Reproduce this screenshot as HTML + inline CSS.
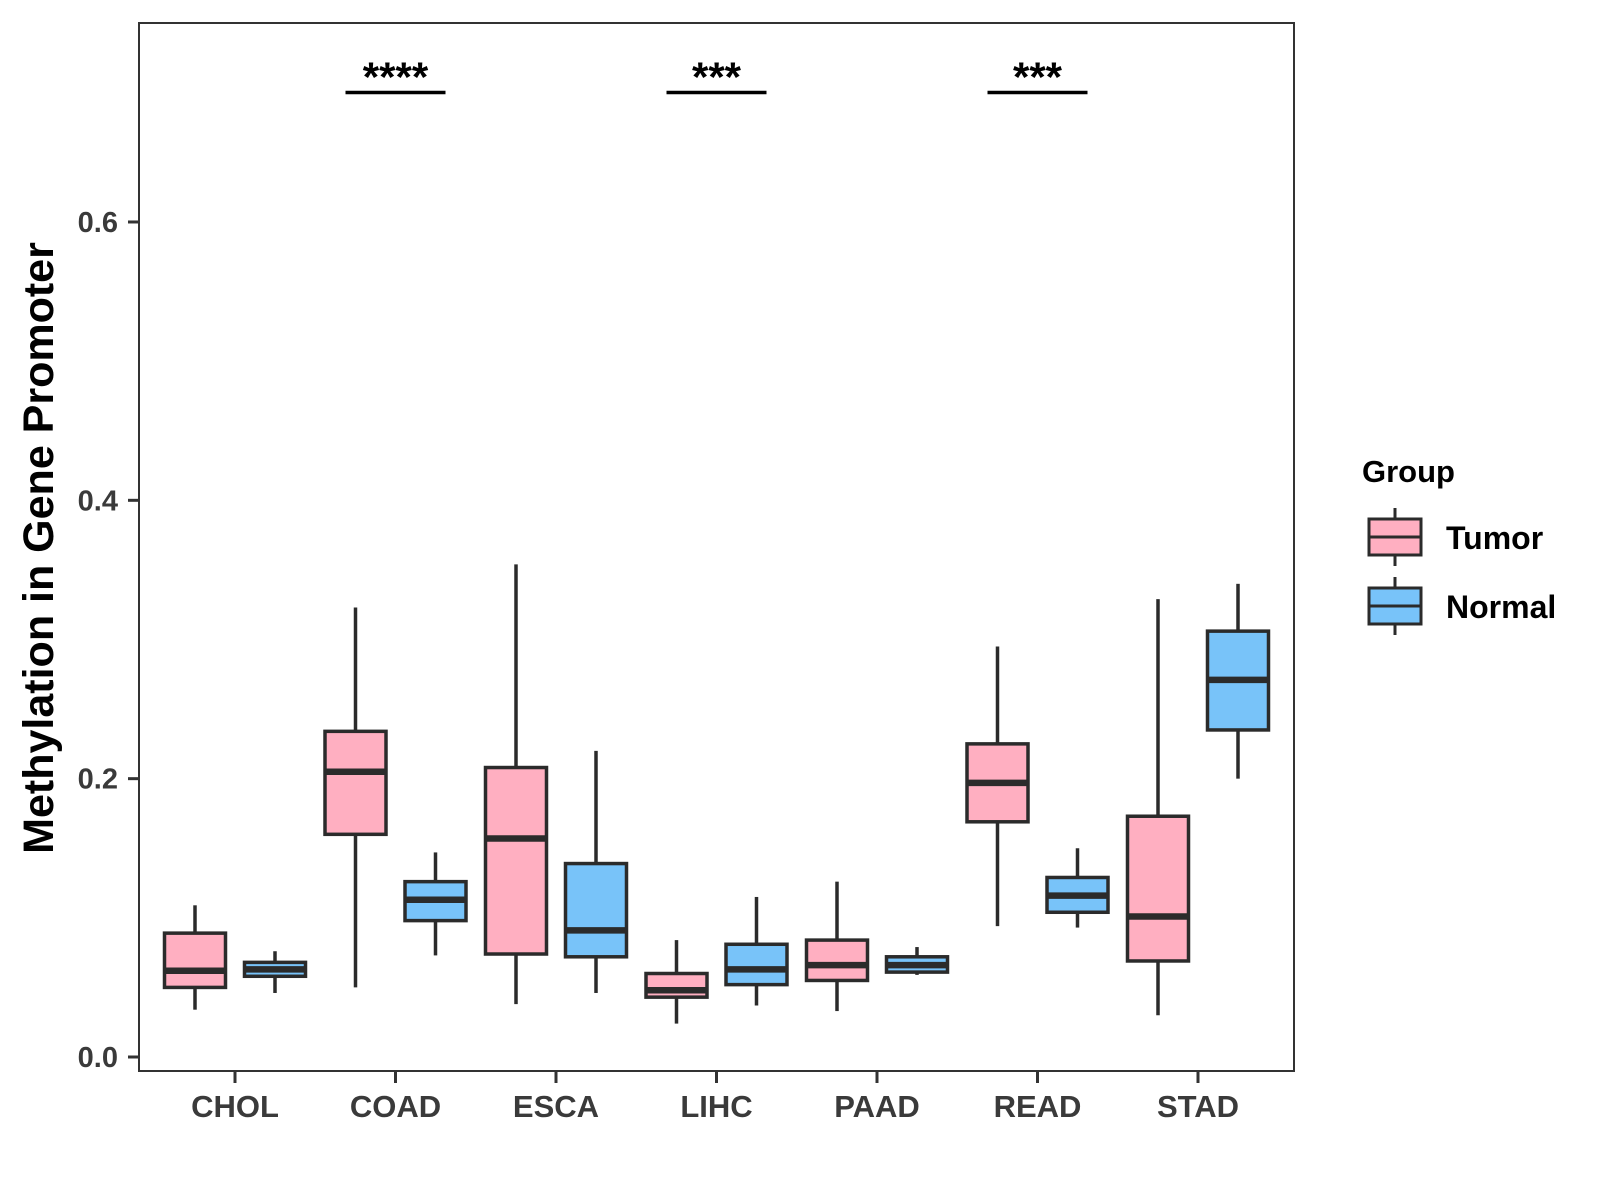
<!DOCTYPE html>
<html><head><meta charset="utf-8"><style>
html,body{margin:0;padding:0;background:#fff;}
svg{display:block;font-family:"Liberation Sans",Arial,sans-serif;}
</style></head><body>
<svg id="chart" width="1600" height="1200" viewBox="0 0 1600 1200">
<rect x="0" y="0" width="1600" height="1200" fill="#fff"/>
<rect x="139" y="23" width="1155" height="1048" fill="none" stroke="#333" stroke-width="2"/>
<g id="yaxis"></g>
<g id="xaxis"></g>
<g id="boxes"></g>
<g id="sig"></g>
<text x="53" y="548" transform="rotate(-90 53 548)" text-anchor="middle" font-size="43" font-weight="bold" fill="#000">Methylation in Gene Promoter</text>
<g>
<text x="1362" y="482" font-size="31" font-weight="bold" fill="#000">Group</text>
<g>
<line x1="1395" y1="508" x2="1395" y2="566" stroke="#2b2b2b" stroke-width="3"/>
<rect x="1369" y="519" width="52" height="36" fill="#FFAFC1" stroke="#2b2b2b" stroke-width="3"/>
<line x1="1369" y1="537" x2="1421" y2="537" stroke="#2b2b2b" stroke-width="3"/>
<text x="1446" y="549" font-size="32" font-weight="bold" fill="#000">Tumor</text>
</g>
<g>
<line x1="1395" y1="577" x2="1395" y2="635" stroke="#2b2b2b" stroke-width="3"/>
<rect x="1369" y="588" width="52" height="36" fill="#78C3F9" stroke="#2b2b2b" stroke-width="3"/>
<line x1="1369" y1="606" x2="1421" y2="606" stroke="#2b2b2b" stroke-width="3"/>
<text x="1446" y="618" font-size="32" font-weight="bold" fill="#000">Normal</text>
</g>
</g>
</svg>
<script>
const categories = ["CHOL","COAD","ESCA","LIHC","PAAD","READ","STAD"];
const yTicks = [0.0, 0.2, 0.4, 0.6];
const yTickLabels = ["0.0","0.2","0.4","0.6"];
// [lower whisker, Q1, median, Q3, upper whisker]
const tumorStats = [
 [0.034,0.050,0.062,0.089,0.109],
 [0.050,0.160,0.205,0.234,0.323],
 [0.038,0.074,0.157,0.208,0.354],
 [0.024,0.043,0.048,0.060,0.084],
 [0.033,0.055,0.066,0.084,0.126],
 [0.094,0.169,0.197,0.225,0.295],
 [0.030,0.069,0.101,0.173,0.329]
];
const normalStats = [
 [0.046,0.058,0.063,0.068,0.076],
 [0.073,0.098,0.113,0.126,0.147],
 [0.046,0.072,0.091,0.139,0.220],
 [0.037,0.052,0.063,0.081,0.115],
 [0.059,0.061,0.066,0.072,0.079],
 [0.093,0.104,0.116,0.129,0.150],
 [0.200,0.235,0.271,0.306,0.340]
];
const sigCategories = ["COAD","LIHC","READ"];
const sigLabels = ["****","***","***"];
const sigLevel = 0.693;

const NS="http://www.w3.org/2000/svg";
function yScale(v){return 1057 - v*1391.7;}
function xScale(i){return 235 + i*160.5;}
function mk(tag,attrs,parent){const e=document.createElementNS(NS,tag);for(const k in attrs)e.setAttribute(k,attrs[k]);parent.appendChild(e);return e;}

const yaxis=document.getElementById('yaxis');
yTicks.forEach((t,i)=>{
 const y=yScale(t);
 const tk=mk('line',{x1:128,x2:139,y1:y,y2:y,stroke:'#333','stroke-width':3},yaxis);
 
 
 const tx=mk('text',{x:118,y:y+10,'text-anchor':'end','font-size':29,'font-weight':'bold',fill:'#3a3a3a'},yaxis);
 tx.textContent=yTickLabels[i];
 
 
});
const xaxis=document.getElementById('xaxis');
categories.forEach((c,i)=>{
 const x=xScale(i);
 const tk=mk('line',{x1:x,x2:x,y1:1071,y2:1083,stroke:'#333','stroke-width':3},xaxis);
 
 
 const tx=mk('text',{x:x,y:1117,'text-anchor':'middle','font-size':31,'font-weight':'bold',fill:'#3a3a3a'},xaxis);
 tx.textContent=c;
 
 
});
const boxes=document.getElementById('boxes');
function drawBox(cx,s,fill,name){
 const g=mk('g',{},boxes);
 
 
 const hw=30.5;
 mk('line',{x1:cx,x2:cx,y1:yScale(s[0]),y2:yScale(s[1]),stroke:'#2b2b2b','stroke-width':3.5},g);
 mk('line',{x1:cx,x2:cx,y1:yScale(s[3]),y2:yScale(s[4]),stroke:'#2b2b2b','stroke-width':3.5},g);
 mk('rect',{x:cx-hw,y:yScale(s[3]),width:2*hw,height:yScale(s[1])-yScale(s[3]),fill:fill,stroke:'#2b2b2b','stroke-width':3.5},g);
 mk('line',{x1:cx-hw,x2:cx+hw,y1:yScale(s[2]),y2:yScale(s[2]),stroke:'#2b2b2b','stroke-width':6.5},g);
}
categories.forEach((c,i)=>{
 drawBox(xScale(i)-40,tumorStats[i],'#FFAFC1','box-tumor-'+c.toLowerCase());
 drawBox(xScale(i)+40,normalStats[i],'#78C3F9','box-normal-'+c.toLowerCase());
});
const sig=document.getElementById('sig');
sigCategories.forEach((c,k)=>{
 const x=xScale(categories.indexOf(c));
 const y=yScale(sigLevel);
 const l=mk('line',{x1:x-50,x2:x+50,y1:y,y2:y,stroke:'#000','stroke-width':3.5},sig);
 
 
 const t=mk('text',{x:x,y:y-1,'text-anchor':'middle','font-size':42,'font-weight':'bold',fill:'#000'},sig);
 t.textContent=sigLabels[k];
 
 
});
</script>
</body></html>
